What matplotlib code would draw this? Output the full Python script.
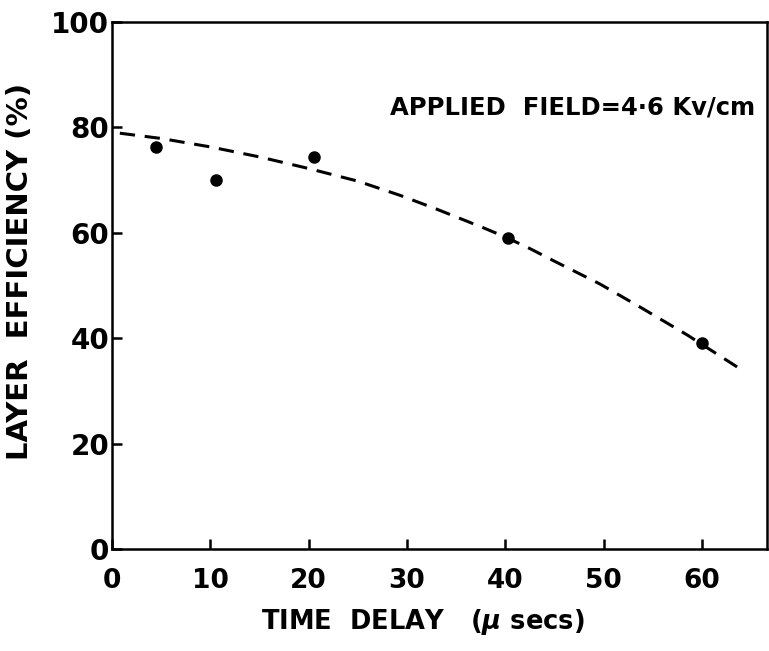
import numpy as np
import matplotlib
matplotlib.use('Agg')
import matplotlib.pyplot as plt

# measured points
delay_pts = [4.5, 10.6, 20.5, 40.3, 60.0]
eff_pts = [76.2, 70.1, 74.3, 59.1, 39.0]

# dashed trend curve
delay_fit = [0.8, 5, 10, 15, 20, 25, 29.3, 33, 37.7, 40, 42.5, 45, 49.6, 53.7, 58.5, 64.1]
eff_fit = [78.9, 77.9, 76.3, 74.4, 72.2, 69.8, 67.1, 64.5, 61.0, 59.2, 57.0, 54.6, 50.3, 45.9, 40.6, 33.9]

xticks = [0, 10, 20, 30, 40, 50, 60]
yticks = [0, 20, 40, 60, 80, 100]

plt.rcParams['font.family'] = ['DejaVu Sans']
plt.rcParams['font.weight'] = 'bold'
plt.rcParams['axes.labelweight'] = 'bold'

fig = plt.figure(figsize=(7.69, 6.51), dpi=100)
ax = fig.add_axes([0.1456, 0.1567, 0.8518, 0.8095])

ax.plot(delay_fit, eff_fit, color='black', lw=2.2, dashes=(5, 3.2))
ax.plot(delay_pts, eff_pts, 'o', color='black', markersize=8)

ax.set_xlim(0, 66.6)
ax.set_ylim(0, 100)
ax.set_xticks(xticks)
ax.set_yticks(yticks)
ax.set_xticklabels([str(v) for v in xticks], fontsize=19)
ax.set_yticklabels([str(v) for v in yticks], fontsize=20)
ax.tick_params(direction='in', length=7, width=1.8, pad=2)
ax.tick_params(axis='x', pad=14)
for s in ax.spines.values():
    s.set_linewidth(1.8)

ax.text(28.3, 83.8, 'APPLIED  FIELD=4·6 Kv/cm', fontsize=17.5, ha='left', va='center')

ax.set_xlabel('TIME  DELAY   ($\\mu$ secs)', fontsize=18.5, va='center')
ax.xaxis.set_label_coords(0.475, -0.1385)
ax.set_ylabel('LAYER  EFFICIENCY (%)', fontsize=21, va='center')
ax.yaxis.set_label_coords(-0.14, 0.5275)

fig.savefig('out.png', dpi=100, facecolor='w')
